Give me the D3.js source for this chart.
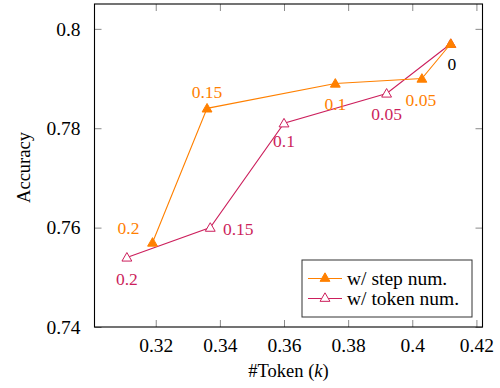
<!DOCTYPE html>
<html>
<head>
<meta charset="utf-8">
<script src="https://cdn.jsdelivr.net/npm/d3@7"></script>
<style>
  html, body { margin: 0; padding: 0; background: #fff; }
  svg { display: block; }
  svg text, svg tspan { font-family: 'Liberation Serif', 'Times New Roman', Tinos !important; }
</style>
</head>
<body>
<svg id="chart" width="500" height="388"></svg>
<script>
// Accuracy vs. token count under different pruning ratios
const stepTokens   = [0.319, 0.336, 0.376, 0.403, 0.412];
const stepAcc      = [0.757, 0.784, 0.789, 0.790, 0.797];
const stepRatios   = ["0.2", "0.15", "0.1", "0.05", "0"];

const tokenTokens  = [0.311, 0.337, 0.360, 0.392, 0.412];
const tokenAcc     = [0.754, 0.760, 0.781, 0.787, 0.797];
const tokenRatios  = ["0.2", "0.15", "0.1", "0.05", "0"];

const xTicks = [0.32, 0.34, 0.36, 0.38, 0.40, 0.42];
const yTicks = [0.74, 0.76, 0.78, 0.80];
const seriesNames = ["w/ step num.", "w/ token num."];

const FONT = "'Liberation Serif', 'Times New Roman', Tinos";
const ORANGE = "#ff8000";
const MAGENTA = "#cc1f5c";

const svg = d3.select("#chart");
const L = 94.5, R = 482.5, T = 4, B = 327;

const x = d3.scaleLinear().domain([0.3009, 0.4219]).range([L, R]);
const y = d3.scaleLinear().domain([0.74, 0.805]).range([B, T]);

const fmt = d => String(+d.toFixed(2));
const tickLen = 7;
const tickColor = "#8a8a8a";

// text helper: serif face set both as attribute and inline style
const serif = (sel, size) => sel.attr("font-family", FONT).style("font-family", FONT)
  .attr("font-size", size).style("font-size", size + "px");

// axes with inward ticks on all four sides
function styleAxis(g) {
  g.attr("font-family", FONT).attr("font-size", 19.5);
  g.select(".domain").remove();
  g.selectAll(".tick line").attr("stroke", tickColor).attr("stroke-width", 1);
  g.selectAll(".tick text").attr("fill", "#000").call(serif, 19.5);
}
svg.append("g").attr("transform", `translate(0,${B})`)
  .call(d3.axisBottom(x).tickValues(xTicks).tickFormat(fmt).tickSizeInner(-tickLen).tickSizeOuter(0).tickPadding(11))
  .call(styleAxis);
svg.append("g").attr("transform", `translate(0,${T})`)
  .call(d3.axisTop(x).tickValues(xTicks).tickFormat("").tickSizeInner(-tickLen).tickSizeOuter(0))
  .call(styleAxis);
svg.append("g").attr("transform", `translate(${L},0)`)
  .call(d3.axisLeft(y).tickValues(yTicks).tickFormat(fmt).tickSizeInner(-tickLen).tickSizeOuter(0).tickPadding(14))
  .call(styleAxis);
svg.append("g").attr("transform", `translate(${R},0)`)
  .call(d3.axisRight(y).tickValues(yTicks).tickFormat("").tickSizeInner(-tickLen).tickSizeOuter(0))
  .call(styleAxis);

// plot frame
svg.append("rect").attr("x", L).attr("y", T).attr("width", R - L).attr("height", B - T)
  .attr("fill", "none").attr("stroke", "#000").attr("stroke-width", 1.1);

// axis titles
svg.append("text").attr("x", (L + R) / 2).attr("y", 377).attr("text-anchor", "middle")
  .call(serif, 18.5)
  .call(t => {
    t.append("tspan").text("#Token (");
    t.append("tspan").attr("font-style", "italic").text("k");
    t.append("tspan").text(")");
  });
svg.append("text").attr("transform", `translate(30,${(T + B) / 2 + 2}) rotate(-90)`)
  .attr("text-anchor", "middle").call(serif, 18.5)
  .text("Accuracy");

const tri = d3.symbol().type(d3.symbolTriangle).size(42);
const line = d3.line();

function drawSeries(xs, ys, color, filled) {
  const pts = xs.map((v, i) => [x(v), y(ys[i])]);
  svg.append("path").attr("d", line(pts)).attr("fill", "none")
    .attr("stroke", color).attr("stroke-width", 1.1);
  svg.selectAll(null).data(pts).enter().append("path")
    .attr("d", tri)
    .attr("transform", d => `translate(${d[0]},${d[1] + 0.8})`)
    .attr("fill", filled ? color : "#fff")
    .attr("stroke", color).attr("stroke-width", 1);
}
drawSeries(tokenTokens, tokenAcc, MAGENTA, false);
drawSeries(stepTokens, stepAcc, ORANGE, true);

// ratio annotations: offsets of each label from its point
const stepLabelOffset  = [[-24, -15], [0, -16], [0, 20], [-1, 21], null];
const tokenLabelOffset = [[0, 21], [28, 1], [0, 18], [0, 20], [1, 20]];

function drawLabels(xs, ys, labels, offsets, color, lastColor) {
  labels.forEach((lab, i) => {
    const o = offsets[i];
    if (!o) return;
    svg.append("text")
      .attr("x", x(xs[i]) + o[0])
      .attr("y", y(ys[i]) + o[1])
      .attr("dy", "0.35em")
      .attr("text-anchor", "middle")
      .attr("fill", i === labels.length - 1 && lastColor ? lastColor : color)
      .call(serif, 17.5)
      .text(lab);
  });
}
drawLabels(stepTokens, stepAcc, stepRatios, stepLabelOffset, ORANGE);
drawLabels(tokenTokens, tokenAcc, tokenRatios, tokenLabelOffset, MAGENTA, "#000");

// legend
const lg = svg.append("g").attr("transform", "translate(302,260)");
lg.append("rect").attr("width", 170).attr("height", 57)
  .attr("fill", "#fff").attr("stroke", "#333").attr("stroke-width", 1);
[[ORANGE, true], [MAGENTA, false]].forEach((s, i) => {
  const cy = 18.5 + i * 20;
  lg.append("line").attr("x1", 6).attr("x2", 40).attr("y1", cy).attr("y2", cy)
    .attr("stroke", s[0]).attr("stroke-width", 1.1);
  lg.append("path").attr("d", tri).attr("transform", `translate(23,${cy})`)
    .attr("fill", s[1] ? s[0] : "#fff").attr("stroke", s[0]).attr("stroke-width", 1);
  lg.append("text").attr("x", 45).attr("y", cy).attr("dy", "0.35em")
    .call(serif, 19.5).text(seriesNames[i]);
});
</script>
</body>
</html>
